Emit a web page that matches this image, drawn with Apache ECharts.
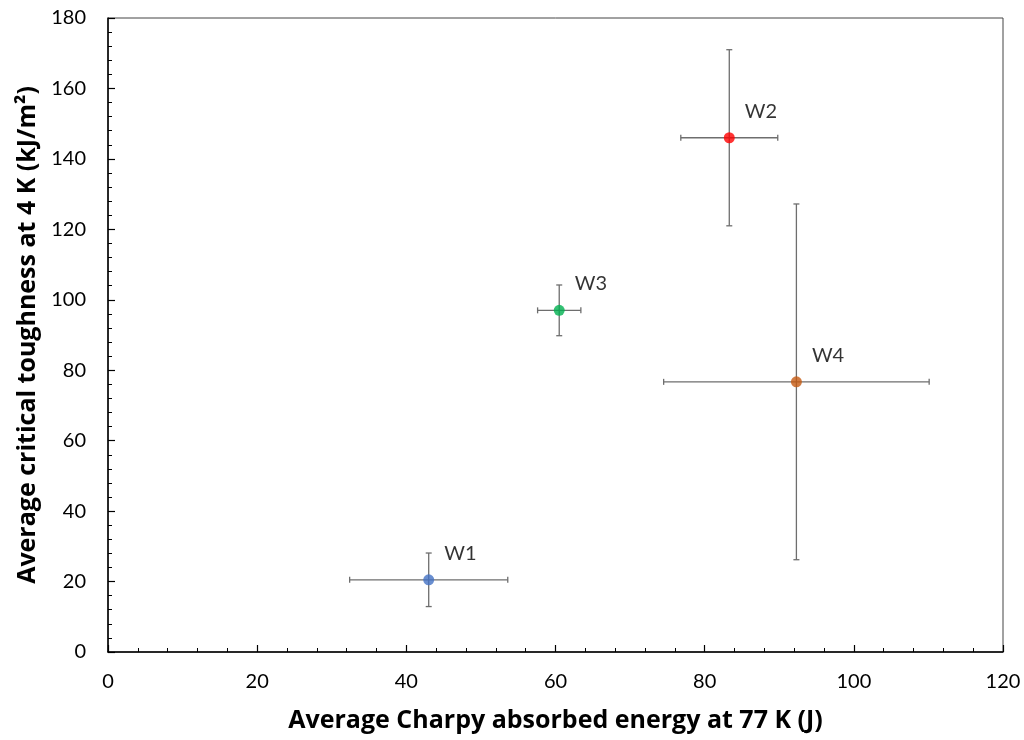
<!DOCTYPE html>
<html>
<head>
<meta charset="utf-8">
<title>Charpy vs critical toughness</title>
<script src="https://cdn.jsdelivr.net/npm/echarts@6/dist/echarts.min.js"></script>
<style>
  html, body { margin: 0; padding: 0; background: #fff; }
  #chart { width: 1024px; height: 740px; }
</style>
</head>
<body>
<div id="chart"></div>
<script>
// 四个焊缝试样的数据
const samples = ['W1', 'W2', 'W3', 'W4']
const charpyMean = [43.0, 83.3, 60.5, 92.3]
const charpyErr = [10.6, 6.5, 2.9, 17.8]
const toughMean = [20.5, 146.0, 97.0, 76.7]
const toughErr = [7.6, 25.0, 7.2, 50.5]

const pointColors = ['#4472C4', '#FF0000', '#00B050', '#C55A11']
const font = 'Lato, "Open Sans", sans-serif'
const titleFont = '"Open Sans", Lato, sans-serif'

const chart = echarts.init(document.getElementById('chart'), null, { renderer: 'canvas' })

const errData = samples.map((s, i) => [charpyMean[i], toughMean[i], charpyErr[i], toughErr[i]])

const renderErr = (params, api) => {
  const x = api.value(0)
  const y = api.value(1)
  const dx = api.value(2)
  const dy = api.value(3)
  const l = api.coord([x - dx, y])
  const r = api.coord([x + dx, y])
  const t = api.coord([x, y + dy])
  const b = api.coord([x, y - dy])
  const cap = 3
  const style = { stroke: '#6e6e6e', lineWidth: 1.3 }
  const line = (x1, y1, x2, y2) => ({ type: 'line', shape: { x1, y1, x2, y2 }, style })
  return {
    type: 'group',
    children: [
      line(l[0], l[1], r[0], r[1]),
      line(l[0], l[1] - cap, l[0], l[1] + cap),
      line(r[0], r[1] - cap, r[0], r[1] + cap),
      line(t[0], t[1], b[0], b[1]),
      line(t[0] - cap, t[1], t[0] + cap, t[1]),
      line(b[0] - cap, b[1], b[0] + cap, b[1]),
    ],
  }
}

const axisCommon = {
  type: 'value',
  axisLine: { show: true, onZero: false, lineStyle: { color: '#000', width: 1.5 } },
  axisTick: { show: true, inside: true, length: 7, lineStyle: { color: '#000', width: 1.2 } },
  minorTick: { show: true, splitNumber: 5, length: 4, lineStyle: { color: '#000', width: 1 } },
  splitLine: { show: false },
  axisLabel: { color: '#000', fontSize: 20, fontFamily: font },
  nameLocation: 'middle',
  nameTextStyle: { color: '#000', fontSize: 25, fontWeight: 'bold', fontFamily: titleFont },
}

const option = {
  backgroundColor: '#fff',
  animation: false,
  grid: {
    left: 108, right: 21, top: 18, bottom: 88,
    outerBoundsMode: 'none',
    show: true, borderColor: '#444', borderWidth: 1,
  },
  xAxis: {
    ...axisCommon,
    min: 0, max: 120, interval: 20,
    name: 'Average Charpy absorbed energy at 77 K (J)',
    nameGap: 56,
    axisLabel: { ...axisCommon.axisLabel, margin: 20 },
  },
  yAxis: {
    ...axisCommon,
    min: 0, max: 180, interval: 20,
    name: 'Average critical toughness at 4 K (kJ/m²)',
    nameGap: 64,
    axisLabel: { ...axisCommon.axisLabel, margin: 22 },
  },
  series: [
    {
      type: 'custom',
      renderItem: renderErr,
      data: errData,
      z: 1,
      silent: true,
    },
    {
      type: 'scatter',
      symbol: 'circle',
      symbolSize: 11,
      z: 2,
      data: samples.map((s, i) => ({
        name: s,
        value: [charpyMean[i], toughMean[i]],
        itemStyle: { color: pointColors[i] },
      })),
      label: {
        show: true,
        formatter: '{b}',
        position: [21, -21],
        align: 'left',
        verticalAlign: 'middle',
        color: '#000',
        fontSize: 20,
        fontFamily: font,
      },
    },
  ],
}

chart.setOption(option)
</script>
</body>
</html>
